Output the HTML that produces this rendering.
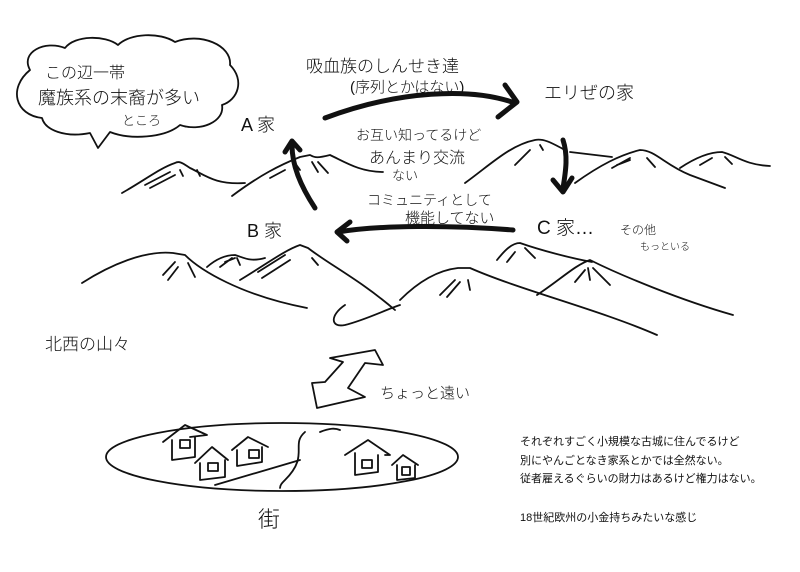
<!DOCTYPE html>
<html><head><meta charset="utf-8"><style>
html,body{margin:0;padding:0;background:#fff}
svg{display:block}
text{font-family:"Liberation Sans","Noto Sans CJK JP",sans-serif;fill:#111}
.h{font-weight:300}
</style></head><body>
<svg width="800" height="572" viewBox="0 0 800 572" xmlns="http://www.w3.org/2000/svg">
<g fill="none" stroke="#111" stroke-width="1.8" stroke-linecap="round" stroke-linejoin="round">
<!-- speech bubble -->
<path d="M30,70 C20,52 45,40 65,48 C75,35 105,35 118,45 C130,33 160,32 175,42 C200,32 232,45 230,65 C245,80 238,100 222,105 C225,122 200,132 180,125 C165,138 130,140 110,132 L98,148 L90,133 C65,138 45,130 42,118 C15,115 8,88 30,70 Z"/>
<!-- row1 mountains -->
<path d="M122,193 C145,180 160,168 175,163 C180,160 185,165 190,168 C205,175 215,185 245,183"/>
<path d="M145,185 L170,172 M150,188 L175,175 M180,170 L183,176 M197,170 L200,176"/>
<path d="M232,196 C260,175 280,165 300,157 L310,155 C315,158 318,158 330,155 C345,162 360,172 383,172"/>
<path d="M270,178 L285,170 M295,163 L300,170 M312,162 L318,172 M318,162 L328,173"/>
<path d="M465,183 C490,165 510,145 535,140 C545,138 555,145 565,150"/>
<path d="M515,165 L528,152 M520,160 L530,150 M540,145 L543,150"/>
<path d="M570,152 L612,157"/>
<path d="M575,183 C600,165 620,155 640,150 C655,150 665,165 690,175 L725,188"/>
<path d="M612,168 L630,158 M617,165 L630,160 M647,158 L655,167"/>
<path d="M680,168 C695,158 710,152 722,152 C735,155 745,165 770,166"/>
<path d="M700,165 L712,158 M725,157 L732,164"/>
<!-- row2 left -->
<path d="M82,283 C110,265 145,250 173,253 L185,255 C200,270 240,295 307,308"/>
<path d="M163,275 L175,262 M168,280 L178,267 M188,263 L195,277"/>
<path d="M207,267 C215,260 225,255 235,255 C245,258 250,262 265,258"/>
<path d="M220,267 L232,258 M225,262 L235,258 M237,258 L240,265"/>
<path d="M240,280 C265,265 285,250 300,245 L308,248 C330,265 360,280 395,310"/>
<path d="M258,272 L285,255 M262,278 L290,260 M312,258 L318,265"/>
<!-- row2 right -->
<path d="M400,300 C420,280 440,270 458,268 L470,268 C520,290 600,310 657,335"/>
<path d="M440,295 L455,280 M447,297 L460,282 M468,280 L470,290"/>
<path d="M497,260 C505,250 512,243 520,243 C540,250 570,258 592,262"/>
<path d="M507,262 L515,252 M525,248 L535,258"/>
<path d="M537,295 C560,280 575,265 590,260 C620,275 680,300 733,315"/>
<path d="M575,282 L585,270 M588,268 L590,280 M593,268 L610,285"/>
<path d="M345,305 C330,315 330,328 345,325 C365,320 385,310 400,305"/>
<!-- zigzag arrow -->
<path d="M330,358 L375,350 L383,365 L365,363 L348,388 L365,397 L317,408 L312,383 L325,382 L343,362 Z"/>
<!-- town -->
<ellipse cx="282" cy="457" rx="176" ry="34"/>
<path d="M305,432 C290,445 310,455 285,480 C282,483 280,485 280,488"/>
<path d="M320,432 C330,428 335,428 340,430"/>
<path d="M215,485 L300,460"/>
<!-- houses -->
<path d="M163,442 L185,425 L207,435 L190,437 M172,440 L172,460 L195,457 L195,437"/>
<rect x="180" y="440" width="10" height="8"/>
<path d="M195,463 L212,447 L228,460 M200,463 L200,480 L225,477 L225,460"/>
<rect x="208" y="463" width="10" height="8"/>
<path d="M232,450 L248,437 L268,447 M237,450 L237,466 L262,462 L262,447"/>
<rect x="249" y="450" width="10" height="8"/>
<path d="M345,455 L368,440 L390,455 L385,455 M355,453 L355,475 L378,472 L378,455"/>
<rect x="362" y="460" width="10" height="8"/>
<path d="M392,465 L403,455 L418,465 M397,465 L397,480 L415,478 L415,465"/>
<rect x="402" y="467" width="8" height="8"/>
</g>
<!-- thick arrows -->
<g fill="none" stroke="#111" stroke-width="5" stroke-linecap="round" stroke-linejoin="round">
<path d="M325,118 C400,90 470,88 512,102"/>
<path d="M505,85 L517,102 L498,117"/>
<path d="M563,140 C568,155 566,170 563,188"/>
<path d="M553,180 L563,192 L572,178"/>
<path d="M513,230 C450,225 380,225 338,232"/>
<path d="M350,222 L337,232 L347,241"/>
<path d="M315,208 C300,185 292,165 292,145"/>
<path d="M285,152 L292,141 L300,150"/>
</g>
<!-- labels -->
<g class="h">
<text x="45" y="78" font-size="16">この辺一帯</text>
<text x="38" y="104" font-size="18">魔族系の末裔が多い</text>
<text x="122" y="125" font-size="13">ところ</text>
<text x="241" y="131" font-size="18">A 家</text>
<text x="247" y="237" font-size="18">B 家</text>
<text x="306" y="72" font-size="17">吸血族のしんせき達</text>
<text x="350" y="92" font-size="15">(序列とかはない)</text>
<text x="544" y="99" font-size="18">エリぜの家</text>
<text x="356" y="140" font-size="14">お互い知ってるけど</text>
<text x="369" y="163" font-size="16">あんまり交流</text>
<text x="392" y="180" font-size="13">ない</text>
<text x="367" y="205" font-size="14">コミュニティとして</text>
<text x="405" y="223" font-size="15">機能してない</text>
<text x="537" y="234" font-size="19">C 家…</text>
<text x="620" y="234" font-size="12">その他</text>
<text x="640" y="250" font-size="10">もっといる</text>
<text x="45" y="350" font-size="17">北西の山々</text>
<text x="380" y="398" font-size="15">ちょっと遠い</text>
<text x="258" y="527" font-size="22">街</text>
</g>
<g font-size="11" fill="#111">
<text x="520" y="445">それぞれすごく小規模な古城に住んでるけど</text>
<text x="520" y="464">別にやんごとなき家系とかでは全然ない。</text>
<text x="520" y="482">従者雇えるぐらいの財力はあるけど権力はない。</text>
<text x="520" y="521">18世紀欧州の小金持ちみたいな感じ</text>
</g>
</svg>
</body></html>
